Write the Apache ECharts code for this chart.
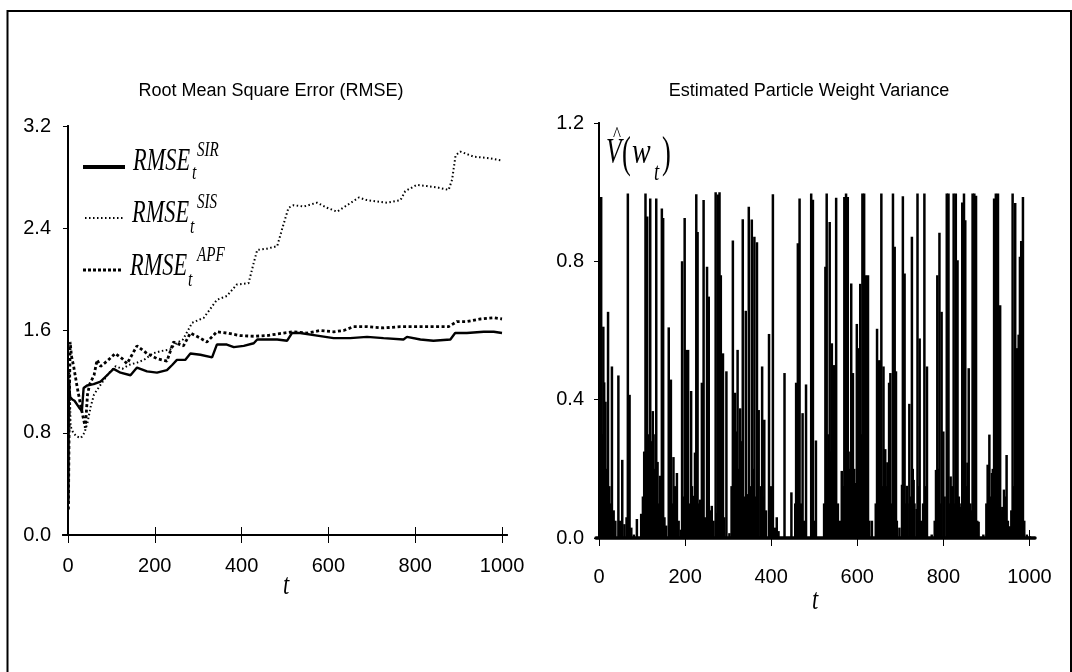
<!DOCTYPE html>
<html>
<head>
<meta charset="utf-8">
<script src="https://cdn.jsdelivr.net/npm/echarts@6/dist/echarts.min.js"></script>
<style>html,body{margin:0;padding:0;background:#fff}#c{width:1072px;height:672px}</style>
</head>
<body>
<div id="c"></div>
<script>
// ---------- data ----------
var xTicks = [0, 200, 400, 600, 800, 1000];
var rmseTicks = [0, 0.8, 1.6, 2.4, 3.2];
var varTicks = [0, 0.4, 0.8, 1.2];

var sirT = [1,2,5,10,15,25,32,36,44,59,75,90,105,121,144,159,182,205,228,240,251,270,282,305,332,343,366,382,405,428,436,458,482,505,516,535,574,612,650,689,727,773,781,812,842,881,892,919,958,981,1000];
var sirV = [0.25,1.19,1.08,1.06,1.05,1.0,0.97,1.15,1.17,1.18,1.2,1.25,1.3,1.27,1.25,1.31,1.28,1.27,1.29,1.33,1.37,1.37,1.42,1.41,1.39,1.49,1.49,1.47,1.48,1.5,1.53,1.53,1.53,1.52,1.58,1.58,1.56,1.54,1.54,1.55,1.54,1.53,1.55,1.53,1.52,1.53,1.58,1.58,1.59,1.59,1.58];

var sisT = [1,3,6,12,20,30,38,45,52,60,70,80,95,110,125,140,160,175,195,215,235,250,265,286,313,343,366,389,416,428,436,458,482,493,508,520,543,574,597,620,643,670,689,712,735,766,777,804,827,850,877,885,893,904,935,966,1000];
var sisV = [1.1,1.3,0.85,0.8,0.77,0.76,0.8,0.88,1.0,1.1,1.15,1.2,1.27,1.32,1.3,1.33,1.35,1.37,1.42,1.44,1.45,1.5,1.53,1.66,1.7,1.84,1.87,1.96,1.97,2.13,2.23,2.24,2.26,2.39,2.56,2.58,2.57,2.6,2.56,2.53,2.58,2.64,2.62,2.61,2.6,2.62,2.69,2.74,2.73,2.72,2.7,2.78,2.97,3.0,2.96,2.95,2.93];

var apfT = [1,3,5,8,13,21,30,40,45,50,60,67,75,90,109,125,136,159,182,205,228,243,266,282,305,320,343,366,397,428,458,497,520,551,581,612,635,658,689,727,766,804,842,877,896,919,950,981,1000];
var apfV = [0.2,1.0,1.51,1.4,1.32,1.16,1.0,0.84,1.1,1.18,1.25,1.37,1.32,1.36,1.42,1.38,1.34,1.48,1.42,1.38,1.36,1.51,1.48,1.58,1.54,1.51,1.59,1.58,1.56,1.555,1.56,1.58,1.59,1.58,1.6,1.59,1.6,1.63,1.63,1.62,1.63,1.63,1.63,1.63,1.67,1.67,1.69,1.7,1.69];

// tall spikes of the weight variance
var wT = [3,5,10,15,21,30,38,45,54,64,67,71,81,88,98,108,112,115,119,125,129,133,139,146,149,156,162,167,173,181,190,193,199,202,207,214,218,223,226,229,235,239,243,251,255,262,271,274,276,280,283,288,296,303,311,316,320,322,328,334,341,344,348,355,361,367,371,379,384,395,404,413,431,447,458,462,466,473,481,493,497,504,526,529,536,541,546,551,564,570,574,578,586,590,595,599,603,607,612,616,620,625,634,646,649,653,656,661,665,670,674,677,683,687,690,698,704,706,710,715,721,727,731,738,740,745,756,762,773,783,786,791,796,800,808,812,817,824,829,833,839,844,848,851,856,859,868,872,876,882,893,903,907,913,918,922,927,932,937,941,947,955,961,967,971,975,978,981,985,994,1001];
var wV = [0.866,0.986,0.611,0.394,0.654,0.496,0.05,0.47,0.226,0.06,0.996,0.414,0.01,0.055,0.07,0.996,0.93,0.3,0.982,0.367,0.2,0.982,0.1,0.953,0.925,0.036,0.609,0.458,0.234,0.188,0.024,0.8,0.925,0.544,0.544,0.425,0.122,0.247,0.994,0.885,0.111,0.449,0.977,0.784,0.698,0.093,1.0,0.072,0.993,1.0,0.76,0.534,0.482,0.014,0.86,0.42,0.308,0.544,0.375,0.922,0.657,0.127,0.958,0.921,0.871,0.855,0.37,0.496,0.342,0.59,0.994,0.06,0.477,0.132,0.449,0.852,0.982,0.361,0.444,0.996,0.978,0.282,0.784,0.996,0.914,0.563,0.5,0.984,0.194,0.986,0.996,0.986,0.736,0.477,0.159,0.619,0.549,0.735,0.996,0.996,0.76,0.76,0.05,0.605,0.514,0.514,0.996,0.496,0.257,0.219,0.449,0.477,0.996,0.842,0.482,0.03,0.154,0.988,0.765,0.151,0.388,0.871,0.168,0.084,0.996,0.577,0.996,0.496,0.01,0.197,0.76,0.883,0.654,0.308,0.996,0.996,0.178,0.996,0.996,0.803,0.09,0.97,0.996,0.919,0.218,0.491,0.996,0.996,0.99,0.047,0.01,0.212,0.299,0.188,0.982,0.996,0.996,0.673,0.09,0.14,0.24,0.034,0.996,0.969,0.549,0.588,0.813,0.859,0.986,0.01,0.005];

// low spikes filling the dark band near zero
var wLowT = [2,7,12,17,24,27,34,49,59,75,102,105,110,117,122,127,131,136,142,152,170,177,185,196,205,210,216,220,231,237,246,258,266,278,286,291,308,313,318,325,331,337,346,352,358,364,369,376,381,388,399,409,417,456,460,464,469,476,500,523,531,533,539,544,549,555,560,567,572,576,581,584,588,593,597,601,605,610,614,618,623,628,643,651,658,663,668,672,679,685,692,708,712,717,724,729,733,742,748,753,759,780,788,793,803,810,815,820,826,831,836,842,846,853,858,863,866,870,874,879,900,905,910,915,920,925,930,935,944,950,958,964,969,973,977,983,988];
var wLowV = [0.5,0.3,0.45,0.2,0.15,0.1,0.08,0.05,0.04,0.03,0.12,0.25,0.35,0.2,0.28,0.15,0.3,0.22,0.18,0.06,0.1,0.15,0.05,0.12,0.2,0.1,0.15,0.08,0.1,0.09,0.06,0.08,0.05,0.1,0.12,0.06,0.15,0.3,0.25,0.2,0.28,0.12,0.1,0.15,0.2,0.12,0.1,0.15,0.12,0.08,0.15,0.03,0.02,0.1,0.3,0.2,0.1,0.05,0.05,0.1,0.2,0.3,0.25,0.15,0.2,0.1,0.05,0.15,0.25,0.3,0.2,0.25,0.12,0.2,0.15,0.25,0.18,0.3,0.2,0.15,0.2,0.05,0.1,0.2,0.15,0.1,0.15,0.2,0.1,0.2,0.05,0.1,0.1,0.1,0.12,0.2,0.1,0.15,0.05,0.1,0.15,0.05,0.2,0.1,0.12,0.2,0.1,0.15,0.1,0.08,0.12,0.1,0.2,0.15,0.1,0.1,0.08,0.15,0.1,0.05,0.1,0.15,0.12,0.2,0.25,0.15,0.12,0.08,0.12,0.05,0.08,0.15,0.25,0.2,0.15,0.2,0.05];

function pairs(t, v) { return t.map(function (x, i) { return [x, v[i]]; }); }

// ---------- styles ----------
var SANS = "'Liberation Sans',Arial,Helvetica,sans-serif";
var SERIF = "'Liberation Serif','Times New Roman',serif";
var axLine = { show: true, lineStyle: { color: '#000', width: 2 } };

function xAx(grid, min, max, pos, margin, extra) {
  var a = {
    type: 'value', gridIndex: grid, position: pos, min: min, max: max,
    axisLine: axLine, splitLine: { show: false },
    axisTick: { show: true, customValues: xTicks, length: 8, inside: false, lineStyle: { color: '#000', width: 1 } },
    axisLabel: { show: pos === 'bottom', customValues: xTicks, color: '#000', fontFamily: SANS, fontSize: 20,
      margin: margin || 14, formatter: function (v) { return String(v); } }
  };
  if (extra) for (var k in extra) a[k] = extra[k];
  return a;
}
function yAx(grid, max, ticks, pos) {
  return {
    type: 'value', gridIndex: grid, position: pos, min: 0, max: max, interval: ticks[1],
    axisLine: axLine, splitLine: { show: false },
    axisTick: { show: true, length: 5, inside: pos === 'right', lineStyle: { color: '#000', width: 1 } },
    axisLabel: { show: pos === 'left', color: '#000', fontFamily: SANS, fontSize: 20, margin: 12,
      formatter: function (v) { return v.toFixed(1); } }
  };
}

function txt(x, y, s, size, italic, sx) {
  return { type: 'text', x: x, y: y, scaleX: sx || 1, silent: true,
    style: { text: s, font: (italic ? 'italic ' : '') + size + 'px ' + SERIF, fill: '#000',
      textAlign: 'left', textVerticalAlign: 'bottom' } };
}

var chart = echarts.init(document.getElementById('c'), null, { renderer: 'canvas' });
chart.setOption({
  animation: false,
  backgroundColor: '#fff',
  title: [
    { text: 'Root Mean Square Error (RMSE)', left: 266, top: 77, textAlign: 'center',
      textStyle: { fontFamily: SANS, fontSize: 18, fontWeight: 'normal', color: '#000' } },
    { text: 'Estimated Particle Weight Variance', left: 804, top: 77, textAlign: 'center',
      textStyle: { fontFamily: SANS, fontSize: 18, fontWeight: 'normal', color: '#000' } }
  ],
  grid: [
    { left: 63, top: 126, width: 444, height: 409 },
    { left: 596, top: 123, width: 439, height: 415 }
  ],
  xAxis: [
    xAx(0, -11.5, 1011.5, 'bottom', 21),
    xAx(0, -11.5, 1011.5, 'top'),
    xAx(1, -7, 1013, 'bottom', 29),
    xAx(1, -7, 1013, 'top', 14, { axisLine: { show: true, lineStyle: { color: '#000', width: 3.5 } } })
  ],
  yAxis: [
    yAx(0, 3.2, rmseTicks, 'left'),
    yAx(0, 3.2, rmseTicks, 'right'),
    yAx(1, 1.2, varTicks, 'left'),
    yAx(1, 1.2, varTicks, 'right')
  ],
  series: [
    { name: 'SIS', type: 'line', xAxisIndex: 0, yAxisIndex: 0, data: pairs(sisT, sisV), showSymbol: false,
      lineStyle: { color: '#000', width: 2, type: [1.5, 2.5] } },
    { name: 'APF', type: 'line', xAxisIndex: 0, yAxisIndex: 0, data: pairs(apfT, apfV), showSymbol: false,
      lineStyle: { color: '#000', width: 2.8, type: [3, 2.5] } },
    { name: 'SIR', type: 'line', xAxisIndex: 0, yAxisIndex: 0, data: pairs(sirT, sirV), showSymbol: false,
      lineStyle: { color: '#000', width: 2.4 } },
    { name: 'V', type: 'bar', xAxisIndex: 2, yAxisIndex: 2, data: pairs(wT, wV), barWidth: 2.5,
      barGap: '-100%', itemStyle: { color: '#000' } },
    { name: 'Vlow', type: 'bar', xAxisIndex: 2, yAxisIndex: 2, data: pairs(wLowT, wLowV), barWidth: 2.5,
      barGap: '-100%', itemStyle: { color: '#000' } }
  ],
  graphic: [
    { type: 'rect', shape: { x: 7.5, y: 11, width: 1063.5, height: 700 }, silent: true,
      style: { fill: 'none', stroke: '#000', lineWidth: 2 } },
    // legend
    { type: 'line', shape: { x1: 83, y1: 167, x2: 125, y2: 167 }, style: { stroke: '#000', lineWidth: 4 } },
    txt(133, 177, 'RMSE', 31, true, 0.72),
    txt(192, 184, 't', 21, true, 0.75),
    txt(197, 161, 'SIR', 21, true, 0.72),
    { type: 'line', shape: { x1: 85, y1: 218, x2: 123, y2: 218 }, style: { stroke: '#000', lineWidth: 1.8, lineDash: [1.5, 2.5] } },
    txt(132, 229, 'RMSE', 31, true, 0.72),
    txt(190, 238, 't', 21, true, 0.75),
    txt(197, 213, 'SIS', 21, true, 0.72),
    { type: 'line', shape: { x1: 83, y1: 270, x2: 123, y2: 270 }, style: { stroke: '#000', lineWidth: 2.8, lineDash: [3, 2] } },
    txt(130, 282, 'RMSE', 31, true, 0.72),
    txt(188, 291, 't', 21, true, 0.75),
    txt(197, 266, 'APF', 21, true, 0.72),
    // V-hat(w_t)
    txt(606, 171, 'V', 35, true, 0.72),
    txt(613, 146, '^', 20, false, 0.85),
    txt(622, 177, '(', 44, false, 0.6),
    txt(632, 171, 'w', 35, true, 0.8),
    txt(654, 186, 't', 25, true, 0.75),
    txt(662, 177, ')', 44, false, 0.6),
    // axis names
    txt(283, 601, 't', 30, true, 0.75),
    txt(812, 616, 't', 30, true, 0.75)
  ]
});
</script>
</body>
</html>
